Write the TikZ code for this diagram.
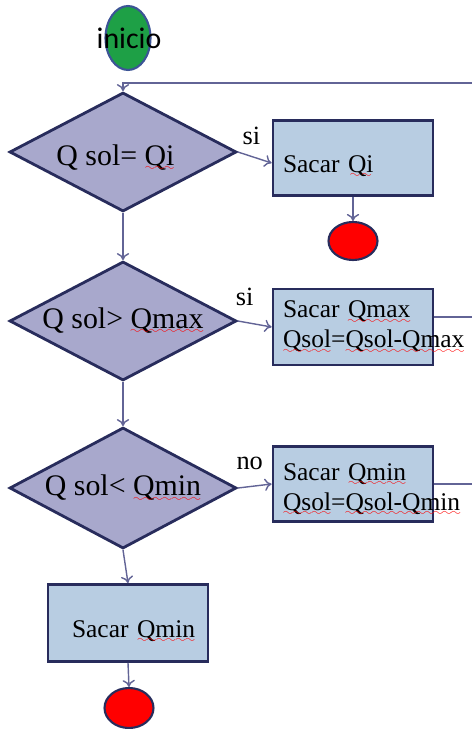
\documentclass[tikz,border=0pt]{standalone}
\usepackage{fontspec}
\setmainfont{Liberation Serif}
\newfontfamily\calibri{Carlito}
\usepackage{tikz}
\usetikzlibrary{shapes.geometric,positioning,arrows.meta}

\definecolor{navy}{RGB}{40,44,92}
\definecolor{lavender}{RGB}{168,168,204}
\definecolor{paleblue}{RGB}{184,205,226}
\definecolor{flowblue}{RGB}{98,100,150}
\definecolor{startgreen}{RGB}{30,160,70}
\definecolor{startblue}{RGB}{60,84,150}

% red wavy underline
\font\wavefont=lasy6
\newcommand{\wavy}[1]{\setbox0\hbox{#1}\rlap{\copy0}\lower3pt\hbox to\wd0{\color{red}\xleaders\hbox{\wavefont\char58}\hfill}}
% taller first line pushes the text down in its box
\newcommand{\lowered}[1]{\rule{0pt}{#1}}

\begin{document}
\begin{tikzpicture}[x=0.02cm,y=-0.02cm, >={To[length=4pt,width=7pt]}]

\tikzstyle{decision}=[diamond, aspect=1.9, draw=navy, line width=1.6pt, fill=lavender, inner sep=0pt, minimum width=4.54cm, minimum height=2.38cm, font=\fontsize{17}{20}\selectfont]
\tikzstyle{process}=[rectangle, draw=navy, line width=1.6pt, fill=paleblue, text width=2.8cm, inner xsep=0.2cm, minimum height=1.5cm, align=left, font=\fontsize{14.5}{17}\selectfont]
\tikzstyle{stop}=[ellipse, draw=navy, line width=1.2pt, fill=red, minimum width=0.98cm, minimum height=0.76cm, inner sep=0pt]
\tikzstyle{flow}=[->, draw=flowblue, line width=0.8pt]
\tikzstyle{annot}=[font=\fontsize{15}{18}\selectfont, inner sep=1pt]

\useasboundingbox (0,0) rectangle (472,729);

\node[ellipse, draw=startblue, line width=1.2pt, fill=startgreen, minimum width=0.9cm, minimum height=1.28cm, inner sep=0pt] (start) at (128,38) {};
\node[font=\calibri\fontsize{17}{20}\selectfont] (startlbl) at (129,38) {inicio};

\node[decision] (d1) at (123,152) {\lowered{18pt}Q sol= \wavy{Qi}\hspace*{0.3cm}};
\node[process, minimum width=3.14cm] (b1) at (353,158) {\lowered{19pt}\mbox{Sacar \wavy{Qi}}};
\node[stop] (e1) at (353,241) {};

\node[decision] (d2) at (123,321) {Q sol> \wavy{Qmax}};
\node[process, minimum height=1.52cm] (b2) at (353,327) {\mbox{Sacar \wavy{Qmax}}\\ \mbox{\wavy{Qsol}=\wavy{Qsol-Qmax}}};

\node[decision, minimum height=2.42cm] (d3) at (123,488) {Q sol< \wavy{Qmin}};
\node[process] (b3) at (353,484) {\lowered{16pt}\mbox{Sacar \wavy{Qmin}}\\ \mbox{\wavy{Qsol}=\wavy{Qsol-Qmin}}};

\node[process, minimum height=1.54cm] (b4) at (128,623) {\lowered{19pt}\mbox{\hspace*{0.28cm}Sacar \wavy{Qmin}}};
\node[stop, minimum height=0.8cm] (e2) at (129,708) {};

% loop back in from the right
\coordinate (loopin) at (472,83);
\coordinate (out2) at (472,317);
\coordinate (out3) at (472,484);

\draw[flow] (loopin) -| (d1.north);
\draw[flow] (d1.east) -- ([yshift=-0.1cm]b1.west) node[annot, pos=0.4, above=5pt] {si};
\draw[flow] (b1.south) -- (e1.north);
\draw[flow] (d1.south) -- (d2.north);

\draw[flow] (d2.east) -- (b2.west) node[annot, pos=0.2, above=8pt] {si};
\draw[flow, -] (b2.east |- out2) -- (out2);
\draw[flow] (d2.south) -- (d3.north);

\draw[flow] (d3.east) -- (b3.west) node[annot, pos=0.35, above=8pt] {no};
\draw[flow, -] (b3.east) -- (out3);
\draw[flow] (d3.south) -- (b4.north);
\draw[flow] (b4.south) -- (e2.north);

\end{tikzpicture}
\end{document}
